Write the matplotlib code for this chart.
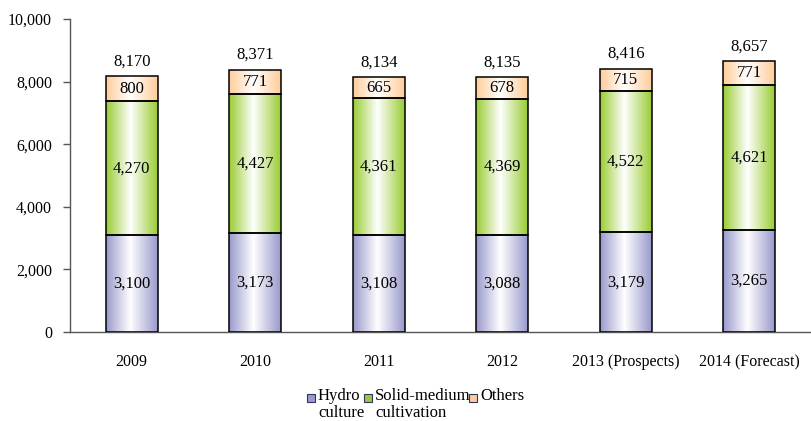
import numpy as np
import matplotlib.pyplot as plt
from matplotlib.colors import LinearSegmentedColormap, to_rgb
from matplotlib.patches import Rectangle
from matplotlib.ticker import FuncFormatter

plt.rcParams['font.family'] = ['Liberation Serif', 'DejaVu Serif']

years = ['2009', '2010', '2011', '2012', '2013 (Prospects)', '2014 (Forecast)']
hydro = [3100, 3173, 3108, 3088, 3179, 3265]
solid = [4270, 4427, 4361, 4369, 4522, 4621]
others = [800, 771, 665, 678, 715, 771]
totals = [8170, 8371, 8134, 8135, 8416, 8657]

series_names = ['Hydro\nculture', 'Solid-medium\ncultivation', 'Others']
series_colors = ['#9999cc', '#99cc33', '#ffcc99']

W, H = 811, 421
fig = plt.figure(figsize=(W / 100, H / 100), dpi=100)
ax = fig.add_axes([70 / W, 1 - 332 / H, 741 / W, (332 - 19) / H])

index = np.arange(len(years))
bar_width = 0.42


def gradient_cmap(color):
    c = to_rgb(color)
    return LinearSegmentedColormap.from_list(
        'g', [(0.0, c), (0.47, (1, 1, 1)), (1.0, c)])


bottom = np.zeros(len(years))
for vals, color in zip([hydro, solid, others], series_colors):
    bars = ax.bar(index, vals, bar_width, bottom=bottom, color='none',
                  edgecolor='black', linewidth=1.1, zorder=3)
    cmap = gradient_cmap(color)
    grad = np.linspace(0, 1, 256).reshape(1, -1)
    for rect, v, b in zip(bars, vals, bottom):
        x0 = rect.get_x()
        x1 = x0 + rect.get_width()
        im = ax.imshow(grad, cmap=cmap, extent=(x0, x1, b, b + v),
                       aspect='auto', zorder=2, interpolation='bicubic')
        im.set_clip_path(rect)
        ax.text(rect.get_x() + rect.get_width() / 2, b + v / 2, f'{v:,}',
                ha='center', va='center', fontsize=12, zorder=4)
    bottom = bottom + np.array(vals)

for i, t in enumerate(totals):
    ax.text(i, bottom[i] + 220, f'{t:,}', ha='center', va='bottom',
            fontsize=12)

ax.set_xlim(-0.5, len(years) - 0.5)
ax.set_ylim(0, 10000)
ax.set_yticks(np.arange(0, 10001, 2000))
ax.yaxis.set_major_formatter(FuncFormatter(lambda v, p: f'{int(v):,}'))
ax.set_xticks(index)
ax.set_xticklabels(years)
ax.tick_params(axis='x', length=0, pad=16, labelsize=11.5)
ax.tick_params(axis='y', direction='out', length=5, width=1, color='#555555',
               labelsize=11.5, pad=8)
for s in ['top', 'right']:
    ax.spines[s].set_visible(False)
for s in ['left', 'bottom']:
    ax.spines[s].set_color('#555555')
    ax.spines[s].set_linewidth(1.0)

# legend drawn by hand so the box sits at the first text line
leg_x = [307, 364, 469]
for x, name, color in zip(leg_x, series_names, series_colors):
    fig.patches.append(Rectangle((x / W, 1 - 402 / H), 8 / W, 8 / H,
                                 transform=fig.transFigure,
                                 facecolor=color, edgecolor='#333366',
                                 linewidth=0.8))
    fig.text((x + 11) / W, 1 - 388 / H, name, ha='left', va='top',
             fontsize=12, linespacing=1.1)

fig.savefig('out.png', dpi=100)
